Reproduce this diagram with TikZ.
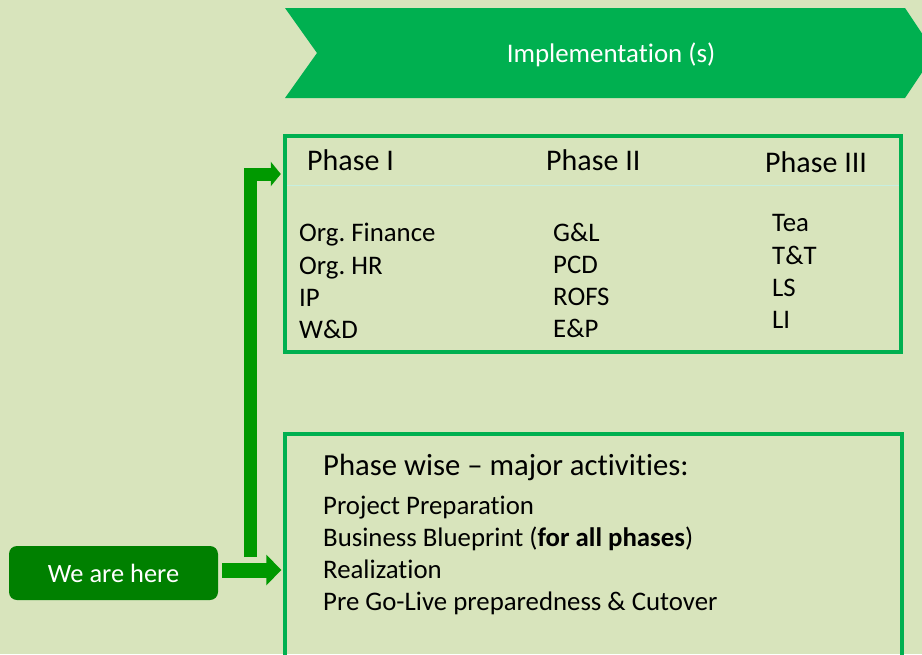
\documentclass[tikz,border=0pt]{standalone}
\usepackage{fontspec}
\setmainfont{Carlito}[Ligatures=NoCommon]
\usetikzlibrary{arrows.meta}
\definecolor{bgc}{RGB}{216,228,188}
\definecolor{chev}{RGB}{0,176,80}
\definecolor{herec}{RGB}{0,128,0}
\definecolor{arrc}{RGB}{0,153,0}
\definecolor{sepc}{RGB}{198,238,224}
\frenchspacing
\tikzset{
  body/.style={font=\fontsize{26.8}{32}\selectfont, anchor=base west, inner sep=0pt},
  head/.style={font=\fontsize{30}{36}\selectfont, anchor=base west, inner sep=0pt},
  framebox/.style={draw=chev, line width=4pt},
  bigarrow/.style={draw=arrc, line width=13pt},
}
\begin{document}
\begin{tikzpicture}[x=1pt,y=-1pt]
\useasboundingbox (0,0) rectangle (922,654);
\clip (0,0) rectangle (922,654);
\fill[bgc] (0,0) rectangle (922,654);
% chevron
\fill[chev] (285,8) -- (905,8) -- (935,53) -- (905,98) -- (285,98) -- (317,53) -- cycle;
\node[font=\fontsize{26.9}{32}\selectfont, text=white, anchor=base, inner sep=0pt] (impl) at (611,62) {Implementation (s)};
% box 1
\draw[framebox] (285,136) rectangle (901,352);
\node[inner sep=0pt, minimum width=0pt] (box1w) at (285,174) {};
\draw[sepc, line width=1pt] (287,185) -- (899,185);
\node[head] (p1) at (307,170) {Phase I};
\node[head] (p2) at (546,170) {Phase II};
\node[head] (p3) at (765,172) {Phase III};
\node[body] (a1) at (299,241) {Org. Finance};
\node[body] (a2) at (299,274) {Org. HR};
\node[body] (a3) at (299,306) {IP};
\node[body] (a4) at (299,338) {W\&D};
\node[body] (b1) at (553,241) {G\&L};
\node[body] (b2) at (553,273) {PCD};
\node[body] (b3) at (553,305) {ROFS};
\node[body] (b4) at (553,337) {E\&P};
\node[body] (c1) at (772,231) {Tea};
\node[body] (c2) at (772,264) {T\&T};
\node[body] (c3) at (772,296) {LS};
\node[body] (c4) at (772,328) {LI};
% box 2
\draw[framebox] (285,434) rectangle (902,700);
\node[inner sep=0pt] (box2w) at (285,570) {};
\node[head, font=\fontsize{30.7}{36}\selectfont] (h2) at (323,475) {Phase wise -- major activities:};
\node[body] (d1) at (323,514) {Project Preparation};
\node[body] (d2) at (323,546) {Business Blueprint (\textbf{for all phases})};
\node[body] (d3) at (323,578) {Realization};
\node[body] (d4) at (323,610) {Pre Go-Live preparedness \& Cutover};
% we are here
\node[fill=herec, rounded corners=8pt, minimum width=209pt, minimum height=54pt, text=white, font=\fontsize{26.4}{32}\selectfont, inner sep=0pt] (here) at (113.5,573) {We are here};
% arrows
\coordinate (j1) at (250,557);
\coordinate (j2) at (222,570);
\draw[draw=arrc, line width=15pt, -{Triangle[length=15pt,width=30pt]}, shorten >=3pt] (j2) -- (box2w);
\draw[bigarrow, -{Triangle[length=10pt,width=24pt]}, shorten >=4pt, line join=miter] (j1) |- (box1w);
\end{tikzpicture}
\end{document}
